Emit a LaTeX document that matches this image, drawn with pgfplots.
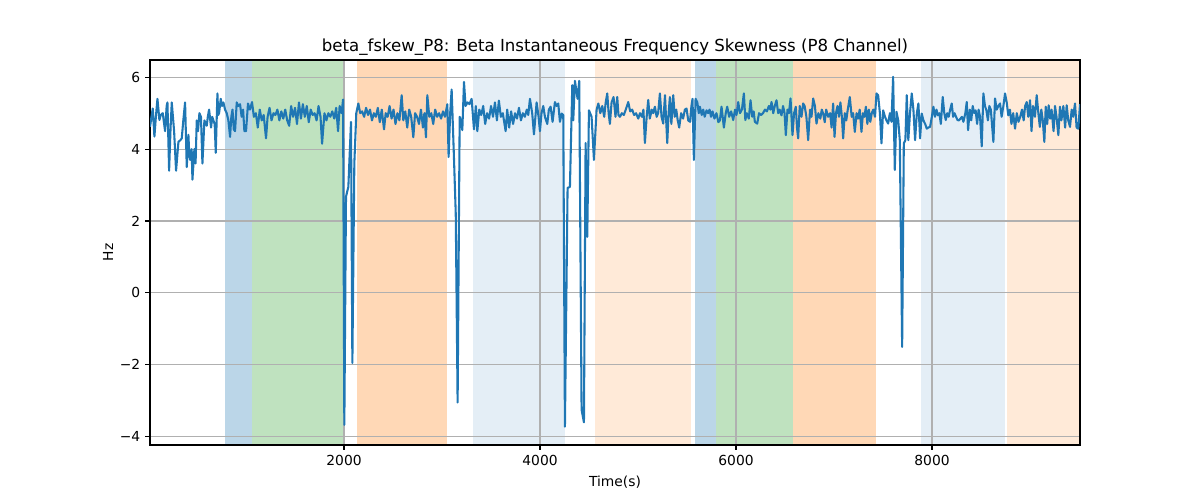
\documentclass[border=0pt]{standalone}
\usepackage{pgfplots}
\pgfplotsset{compat=1.18}
\usepackage{fontspec}
\setmainfont{DejaVu Sans}
\definecolor{tabblue}{HTML}{1F77B4}
\definecolor{tabgreen}{HTML}{2CA02C}
\definecolor{taborange}{HTML}{FF7F0E}
\definecolor{gridgray}{HTML}{B0B0B0}
\begin{document}
\begin{tikzpicture}
\begin{axis}[
  set layers=standard,
  at={(0,0)}, anchor=south west,
  scale only axis, width=9.3in, height=3.85in,
  xmin=20, xmax=9510, ymin=-4.23, ymax=6.48,
  xtick={2000,4000,6000,8000}, xticklabels={2000,4000,6000,8000},
  ytick={-4,-2,0,2,4,6}, yticklabels={−4,−2,0,2,4,6},
  tick align=outside, tick pos=left, major tick length=3.5pt,
  every tick/.style={black, line width=0.8pt},
  grid=major, grid style={gridgray, line width=0.8pt},
  axis line style={line width=0.8pt},
  tick label style={font=\fontsize{10}{12}\selectfont},
  label style={font=\fontsize{10}{12}\selectfont},
  title style={font=\fontsize{12}{14}\selectfont, yshift=-6pt},
  title={beta\_fskew\_P8: Beta Instantaneous Frequency Skewness (P8 Channel)},
  xlabel={Time(s)}, ylabel={Hz},
  xlabel style={yshift=-1pt}, ylabel style={yshift=-2pt},
]
\addplot[draw=none, fill=tabblue, fill opacity=0.3, on layer=axis background] coordinates {(786,-4.23)(1061,-4.23)(1061,6.48)(786,6.48)} -- cycle;
\addplot[draw=none, fill=tabgreen, fill opacity=0.3, on layer=axis background] coordinates {(1061,-4.23)(2000,-4.23)(2000,6.48)(1061,6.48)} -- cycle;
\addplot[draw=none, fill=taborange, fill opacity=0.3, on layer=axis background] coordinates {(2133,-4.23)(3051,-4.23)(3051,6.48)(2133,6.48)} -- cycle;
\addplot[draw=none, fill=tabblue, fill opacity=0.12, on layer=axis background] coordinates {(3316,-4.23)(4255,-4.23)(4255,6.48)(3316,6.48)} -- cycle;
\addplot[draw=none, fill=taborange, fill opacity=0.16, on layer=axis background] coordinates {(4561,-4.23)(5541,-4.23)(5541,6.48)(4561,6.48)} -- cycle;
\addplot[draw=none, fill=tabblue, fill opacity=0.3, on layer=axis background] coordinates {(5582,-4.23)(5796,-4.23)(5796,6.48)(5582,6.48)} -- cycle;
\addplot[draw=none, fill=tabgreen, fill opacity=0.3, on layer=axis background] coordinates {(5796,-4.23)(6582,-4.23)(6582,6.48)(5796,6.48)} -- cycle;
\addplot[draw=none, fill=taborange, fill opacity=0.3, on layer=axis background] coordinates {(6582,-4.23)(7429,-4.23)(7429,6.48)(6582,6.48)} -- cycle;
\addplot[draw=none, fill=tabblue, fill opacity=0.12, on layer=axis background] coordinates {(7888,-4.23)(8745,-4.23)(8745,6.48)(7888,6.48)} -- cycle;
\addplot[draw=none, fill=taborange, fill opacity=0.16, on layer=axis background] coordinates {(8765,-4.23)(9510,-4.23)(9510,6.48)(8765,6.48)} -- cycle;
\addplot[tabblue, line width=1.5pt, line join=round, mark=none] coordinates {
(20,4.62)(35,4.9)(48,5.13)(65,4.35)(80,4.9)(96,5.4)(116,4.81)(130,4.95)(150,5.0)(174,4.5)(190,5.2)(198,5.3)(215,3.4)(230,4.6)(242,5.3)(266,4.5)(286,3.4)(310,4.2)(330,4.25)(344,4.3)(360,4.8)(378,5.3)(395,3.5)(412,4.4)(420,3.9)(429,3.7)(445,4.0)(453,3.15)(473,4.0)(485,3.6)(497,4.8)(510,4.5)(524,5.0)(540,4.9)(555,3.6)(575,4.8)(599,4.65)(610,4.9)(623,5.1)(643,4.6)(655,4.9)(667,4.8)(680,4.7)(691,3.9)(708,5.55)(716,4.95)(725,5.0)(742,5.4)(755,5.2)(769,5.3)(786,5.1)(803,5.0)(820,4.8)(837,4.34)(850,4.9)(862,5.1)(875,4.55)(888,4.5)(905,5.3)(920,5.2)(939,5.25)(955,4.9)(970,5.1)(983,4.5)
(1000,4.5)(1020,5.27)(1040,5.1)(1061,5.31)(1080,4.9)(1100,5.0)(1120,4.6)(1140,5.1)(1160,4.8)(1180,4.95)(1204,4.3)(1220,4.9)(1240,5.15)(1260,4.8)(1280,5.0)(1300,4.95)(1320,5.1)(1340,4.8)(1360,5.05)(1380,4.85)(1400,5.1)(1420,4.8)(1440,4.65)(1460,5.2)(1480,4.9)(1500,5.15)(1520,4.7)(1540,5.3)(1560,4.85)(1580,5.25)(1600,4.9)(1620,5.2)(1640,4.75)(1660,5.1)(1680,4.95)(1700,5.0)(1720,4.8)(1740,5.2)(1760,4.9)(1776,4.15)(1800,5.0)(1820,4.8)(1840,5.0)(1860,4.9)(1880,5.05)(1900,4.85)(1920,5.15)(1939,4.5)(1955,5.2)(1975,5.0)(1990,5.38)(2003,-3.67)(2020,2.68)(2044,2.95)(2071,4.76)(2085,-1.95)(2105,3.6)(2125,5.0)
(2146,5.27)(2165,5.0)(2185,5.05)(2205,4.9)(2225,5.15)(2245,4.95)(2265,5.1)(2285,4.8)(2305,5.0)(2325,4.9)(2345,5.15)(2365,4.75)(2385,5.1)(2408,4.55)(2425,5.0)(2445,4.9)(2465,5.2)(2485,4.85)(2505,5.1)(2525,4.7)(2545,5.0)(2565,4.8)(2588,5.5)(2605,4.8)(2625,5.05)(2645,4.6)(2665,5.1)(2685,4.9)(2707,4.33)(2725,5.0)(2745,4.9)(2765,4.7)(2785,5.1)(2805,4.6)(2820,5.0)(2836,4.33)(2850,5.5)(2870,4.9)(2890,5.0)(2910,4.7)(2930,5.1)(2950,4.9)(2970,5.0)(2990,4.85)(3010,5.05)(3030,4.9)(3054,5.25)(3067,3.78)(3083,5.0)(3098,5.66)(3120,3.9)(3140,2.2)(3159,-3.05)(3180,4.9)(3195,4.75)(3207,4.53)(3224,5.87)(3240,5.2)(3260,5.3)(3280,5.25)(3302,5.4)(3326,4.55)(3345,5.2)(3360,4.5)(3380,5.1)
(3400,4.95)(3420,5.2)(3440,4.7)(3460,5.0)(3480,4.85)(3500,5.2)(3520,4.9)(3540,5.3)(3560,4.8)(3580,5.35)(3600,4.9)(3620,5.0)(3649,4.5)(3665,5.1)(3685,4.6)(3705,5.05)(3725,4.7)(3745,5.0)(3765,4.85)(3785,5.15)(3805,4.8)(3825,5.0)(3845,4.9)(3865,5.1)(3880,4.95)(3897,5.4)(3920,5.0)(3938,4.41)(3965,5.3)(3985,4.9)(3999,4.5)(4015,5.0)(4033,5.2)(4050,4.9)(4074,4.7)(4090,5.1)(4108,5.18)(4128,4.76)(4152,5.31)(4170,5.2)(4186,5.27)(4203,4.76)(4220,4.99)(4237,4.95)(4254,-3.72)(4281,2.92)(4305,2.95)(4329,5.78)(4339,4.8)(4356,5.9)(4383,5.4)(4400,5.9)(4424,-3.25)(4448,-3.6)(4465,4.17)(4482,1.56)(4499,5.08)(4526,4.9)(4550,3.7)(4577,5.1)
(4595,5.27)(4615,5.0)(4635,5.2)(4655,4.9)(4670,5.3)(4686,5.55)(4700,5.0)(4713,4.7)(4730,5.3)(4750,5.45)(4770,4.9)(4788,5.45)(4800,4.95)(4815,4.9)(4835,5.0)(4855,4.95)(4875,5.1)(4900,5.31)(4920,5.05)(4940,5.1)(4960,4.95)(4980,5.0)(5002,4.85)(5020,5.0)(5040,4.9)(5055,5.1)(5070,4.17)(5088,4.9)(5104,5.37)(5120,4.85)(5140,5.1)(5155,5.0)(5172,5.18)(5190,4.9)(5205,5.0)(5223,5.55)(5240,4.9)(5257,4.71)(5275,5.5)(5298,4.17)(5312,5.0)(5325,5.45)(5340,4.7)(5359,5.5)(5375,4.9)(5390,5.1)(5405,4.8)(5420,4.6)(5440,5.0)(5460,4.85)(5478,5.1)(5495,5.13)(5512,4.8)(5530,4.76)(5545,5.2)(5556,5.4)(5570,3.7)(5587,5.4)(5605,5.3)(5620,5.0)(5631,5.18)(5650,4.95)(5665,5.1)(5680,4.9)(5699,5.08)(5715,5.0)(5730,5.1)(5745,4.9)(5760,5.05)(5780,4.85)(5800,5.0)(5820,4.75)(5835,4.8)(5852,5.18)(5876,4.6)(5895,5.0)(5910,5.18)
(5930,4.9)(5950,5.05)(5971,4.81)(5990,5.1)(6005,4.95)(6022,5.31)(6040,5.0)(6060,5.1)(6080,5.55)(6095,4.81)(6110,5.0)(6130,4.85)(6148,5.36)(6165,4.9)(6180,5.05)(6192,4.76)(6216,4.71)(6235,5.0)(6255,4.95)(6275,5.0)(6295,5.1)(6315,5.05)(6335,5.2)(6350,5.1)(6362,5.31)(6380,5.0)(6395,5.2)(6413,5.36)(6430,5.0)(6445,5.1)(6464,4.94)(6480,5.2)(6495,5.0)(6508,4.39)(6525,5.1)(6540,5.0)(6556,5.41)(6576,4.39)(6592,5.0)(6610,5.18)(6622,4.6)(6634,4.3)(6650,5.2)(6668,4.9)(6685,5.27)(6700,5.2)(6718,4.9)(6736,4.25)(6755,5.1)(6770,4.9)(6787,5.41)(6805,5.2)(6821,4.71)(6840,5.0)(6860,4.85)(6875,5.1)(6889,4.99)(6905,4.75)(6920,5.1)(6940,4.9)(6960,5.0)(6975,4.6)(6991,5.27)(7005,4.34)
(7020,5.0)(7035,5.2)(7050,4.9)(7065,5.3)(7080,4.9)(7093,4.3)(7110,5.0)(7125,4.8)(7140,5.1)(7161,5.45)(7180,4.9)(7195,5.0)(7212,4.48)(7230,5.0)(7245,4.85)(7262,5.1)(7280,4.48)(7295,5.0)(7310,4.9)(7325,5.18)(7340,4.7)(7355,5.1)(7370,4.76)(7385,5.0)(7400,5.1)(7418,4.9)(7433,5.55)(7450,5.5)(7468,5.0)(7484,4.16)(7501,5.08)(7520,4.9)(7535,4.8)(7552,4.71)(7570,5.0)(7586,4.76)(7603,6.01)(7620,3.42)(7637,5.04)(7655,4.8)(7671,4.25)(7695,-1.5)(7712,4.16)(7728,4.25)(7742,5.5)(7758,4.25)(7775,5.0)(7793,5.55)(7810,5.1)(7827,4.25)(7845,5.0)(7861,5.27)(7878,4.3)(7895,4.99)(7912,4.8)(7930,4.7)(7946,4.57)(7962,4.6)(7980,4.62)(7998,4.9)(8014,5.18)
(8030,4.9)(8045,5.1)(8060,4.94)(8075,5.0)(8090,4.7)(8109,5.45)(8125,5.0)(8140,4.81)(8155,5.0)(8170,4.9)(8185,5.1)(8201,5.27)(8215,4.9)(8230,5.0)(8245,4.9)(8260,4.81)(8275,4.8)(8290,4.85)(8305,4.9)(8320,4.76)(8340,5.0)(8354,5.31)(8368,4.53)(8385,5.1)(8400,4.8)(8415,5.2)(8430,5.0)(8445,5.08)(8460,4.7)(8475,5.1)(8490,4.9)(8507,4.08)(8524,5.55)(8540,5.2)(8555,5.08)(8570,4.8)(8585,5.2)(8600,5.1)(8626,4.2)(8643,5.41)(8660,5.1)(8677,5.2)(8694,5.27)(8710,4.9)(8728,5.2)(8745,5.55)(8762,5.3)(8778,4.94)(8795,5.1)(8810,4.7)(8828,5.0)(8847,4.57)(8865,5.0)(8882,4.76)(8900,4.9)(8918,5.1)(8935,4.8)(8950,5.2)(8966,5.31)(8982,4.9)(9000,5.36)(9015,4.5)(9030,5.2)(9050,4.9)(9068,5.5)(9085,5.0)(9100,4.62)(9115,5.1)(9130,4.8)(9146,4.2)(9160,5.18)(9175,4.7)(9190,5.22)(9205,4.85)(9220,5.1)(9240,4.5)(9255,5.2)(9270,4.9)(9289,4.39)(9305,5.18)(9320,4.8)(9340,5.2)(9358,4.6)(9374,5.22)(9390,4.8)(9408,4.62)(9425,5.1)(9440,4.9)(9459,5.27)(9475,4.6)(9493,4.57)(9510,5.25)
};
\end{axis}
\pgfresetboundingbox
\useasboundingbox (-1.5in,-0.55in) rectangle (10.5in,4.45in);
\end{tikzpicture}
\end{document}
